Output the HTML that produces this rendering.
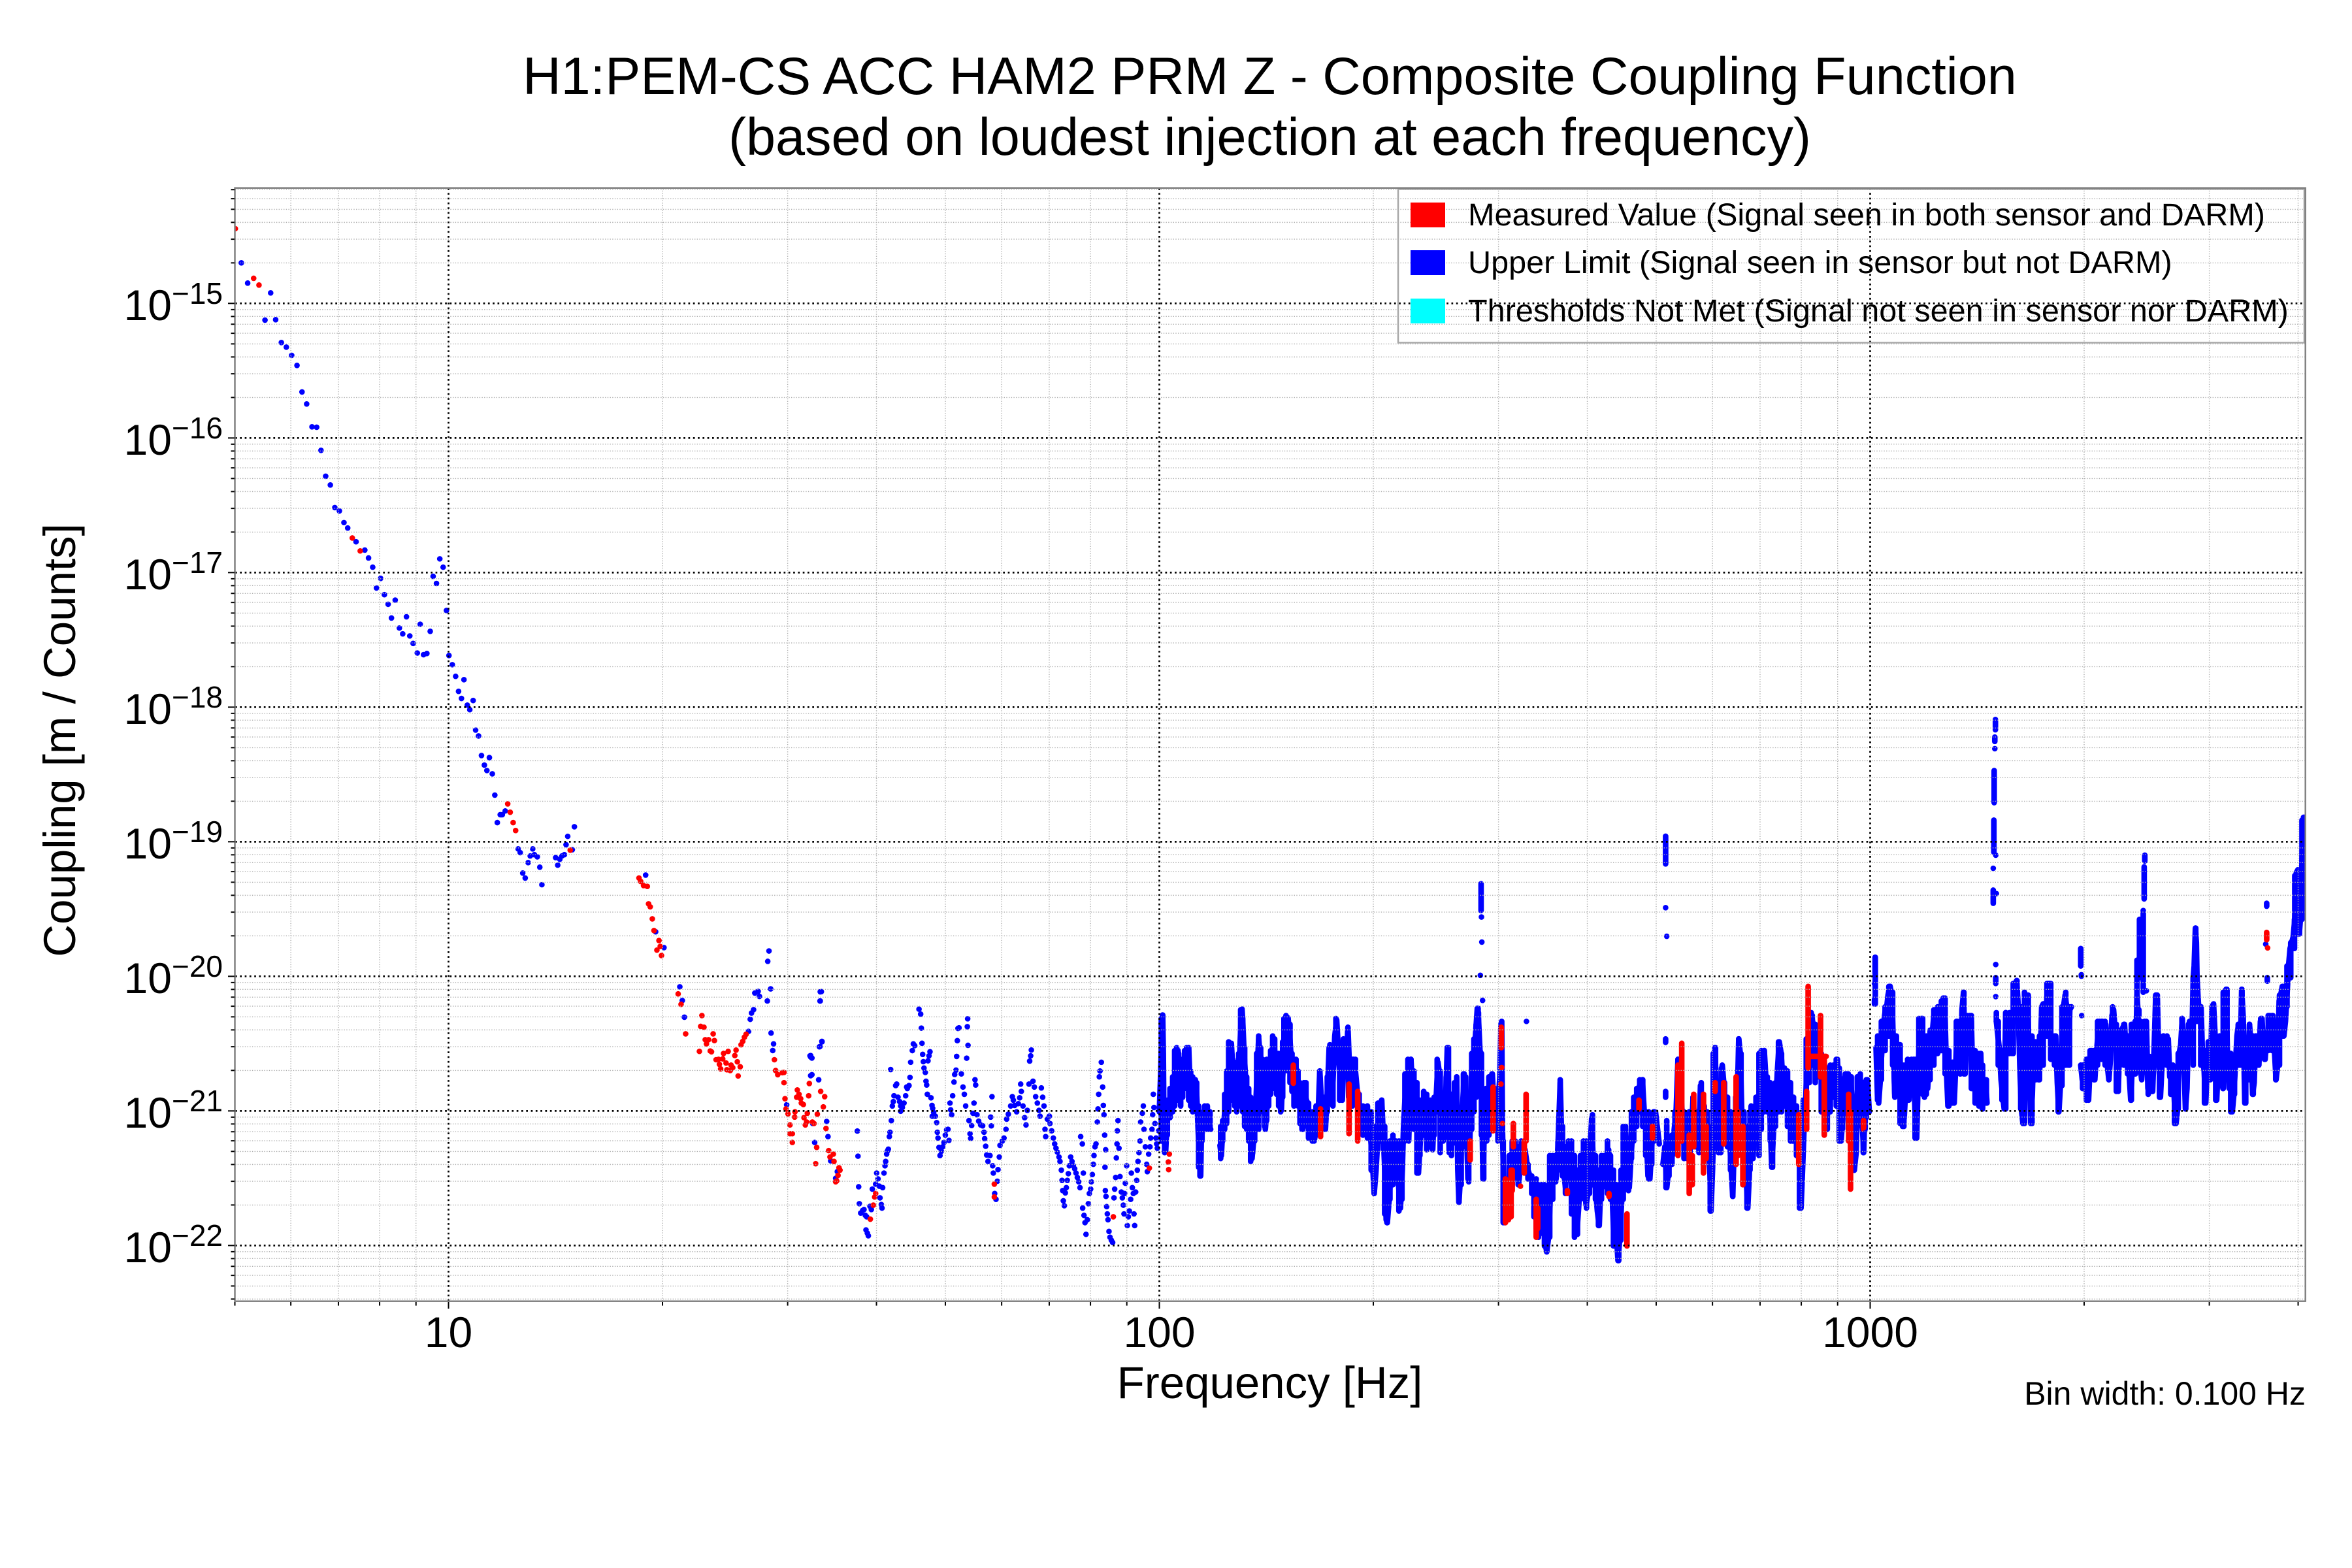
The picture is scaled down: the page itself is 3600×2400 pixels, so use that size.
<!DOCTYPE html>
<html><head><meta charset="utf-8"><style>
html,body{margin:0;padding:0;background:#fff}
svg{display:block}
text{font-family:"Liberation Sans",Arial,Helvetica,sans-serif;fill:#000}
.b,.r{fill:none;stroke-linecap:round;stroke-linejoin:round;stroke-width:8.6px;vector-effect:non-scaling-stroke}
.b{stroke:#0000ff}.r{stroke:#ff0000}
</style></head><body>
<svg width="3600" height="2400" viewBox="0 0 3600 2400" xmlns="http://www.w3.org/2000/svg">
<rect x="0" y="0" width="3600" height="2400" fill="#fff"/>
<defs><clipPath id="cp"><rect x="359.5" y="287.7" width="3169.2" height="1704"/></clipPath></defs>

<g clip-path="url(#cp)">
<!-- zoom1 region -->
<g transform="translate(0,250) scale(0.5102,0.3333)">
<path class="b" vector-effect="non-scaling-stroke" d="M724 457h.01M743 550h.01M812 595h.01M795 720h.01M827 718h.01M844 823h.01M859 844h.01M875 882h.01M891 928h.01M906 1050h.01M920 1105h.01M936 1210h.01M950 1212h.01M963 1318h.01M977 1437h.01M991 1477h.01"/>
<path class="r" vector-effect="non-scaling-stroke" d="M706 300h.01M761 528h.01M777 559h.01"/>
</g>
<!-- zoom6 region -->
<g transform="translate(360,650) scale(0.6378)">
<path class="b" vector-effect="non-scaling-stroke" d="M239 199h.01M250 207h.01M261 235h.01M270 248h.01M290 281h.01M311 301h.01M320 320h.01M330 342h.01M349 369h.01M339 392h.01M358 408h.01M384 421h.01M367 431h.01M375 464h.01M411 461h.01M394 488h.01M402 502h.01M419 507h.01M444 479h.01M427 525h.01M437 548h.01M452 552h.01M460 549h.01M468 496h.01M475 364h.01M483 381h.01M491 322h.01M499 342h.01M507 446h.01M513 554h.01M521 576h.01M529 604h.01M549 612h.01M536 640h.01M543 657h.01M571 662h.01M557 673h.01M563 684h.01M577 733h.01M584 747h.01M591 794h.01M610 799h.01M598 817h.01M604 830h.01M617 838h.01M623 889h.01M648 927h.01M641 936h.01M636 936h.01M629 955h.01M679 1018h.01M684 1027h.01M714 1018h.01M708 1035h.01M718 1032h.01M725 1037h.01M703 1051h.01M731 1062h.01M690 1076h.01M696 1088h.01M736 1104h.01M769 1039h.01M779 1043h.01M774 1057h.01M784 1035h.01M790 1032h.01M794 1008h.01M798 988h.01M814 965h.01M809 1020h.01M985 1081h.01M1009 1217h.01M1029 1255h.01M1067 1349h.01M1073 1382h.01M1078 1422h.01M1232 1456h.01M1236 1427h.01M1239 1412h.01M1244 1404h.01M1247 1364h.01M1255 1360h.01M1258 1372h.01M1281 1263h.01M1278 1288h.01M1277 1383h.01M1285 1354h.01M1286 1460h.01M1292 1486h.01M1290 1502h.01M1404 1361h.01M1404 1383h.01M1408 1480h.01M1402 1493h.01M1381 1514h.01M1384 1520h.01M1384 1560h.01"/>
<path class="r" vector-effect="non-scaling-stroke" d="M281 272h.01M300 303h.01M654 910h.01M660 930h.01M667 955h.01M673 974h.01M804 1021h.01M969 1088h.01M973 1096h.01M980 1106h.01M989 1108h.01M992 1150h.01M996 1157h.01M1001 1186h.01M1005 1214h.01M1017 1238h.01M1020 1252h.01M1012 1261h.01M1023 1274h.01M1063 1366h.01M1070 1391h.01M1081 1462h.01M1120 1418h.01M1117 1444h.01M1125 1446h.01M1147 1462h.01M1128 1476h.01M1136 1476h.01M1150 1478h.01M1131 1486h.01M1114 1504h.01M1140 1503h.01M1143 1505h.01M1154 1524h.01M1160 1523h.01M1170 1522h.01M1183 1504h.01M1172 1509h.01M1202 1501h.01M1199 1514h.01M1162 1535h.01M1178 1532h.01M1190 1537h.01M1205 1529h.01M1212 1541h.01M1165 1546h.01M1180 1548h.01M1188 1550h.01M1194 1543h.01M1207 1563h.01M1214 1488h.01M1218 1480h.01M1222 1470h.01M1226 1463h.01M1294 1524h.01M1297 1550h.01M1302 1560h.01M1313 1555h.01"/>
</g>
<!-- zoom7 region -->
<g transform="translate(1200,1300) scale(0.5102,0.4464)">
<path class="b" vector-effect="non-scaling-stroke" d="M8 876h.01M80 776h.01M86 940h.01M92 1005h.01M104 790h.01M128 933h.01M132 985h.01M140 1068h.01M160 1105h.01M155 1128h.01M78 708h.01M80 712h.01M108 520h.01M112 488h.01M114 660h.01M108 676h.01M220 966h.01M222 1052h.01M224 1157h.01M226 1215h.01M230 1247h.01M236 1238h.01M240 1235h.01M244 1255h.01M248 1260h.01M246 1305h.01M250 1316h.01M253 1325h.01M258 1224h.01M262 1235h.01M265 1165h.01M275 1148h.01M278 1110h.01M282 1130h.01M286 1155h.01M288 1195h.01M292 1218h.01M294 1230h.01M296 1160h.01M300 1110h.01M303 1085h.01M305 1070h.01M308 1045h.01M310 1035h.01M313 1028h.01M316 985h.01M318 970h.01M322 930h.01M320 755h.01M325 880h.01M328 865h.01M330 845h.01M335 810h.01M338 805h.01M342 850h.01M347 865h.01M350 880h.01M355 885h.01M350 898h.01M360 870h.01M365 845h.01M370 820h.01M368 815h.01M375 810h.01M378 782h.01M380 730h.01M385 690h.01M388 667h.01M392 673h.01M405 548h.01M410 565h.01M412 613h.01M414 665h.01M416 703h.01M418 728h.01M420 750h.01M424 765h.01M426 795h.01M428 808h.01M430 840h.01M432 725h.01M435 708h.01M438 694h.01M441 852h.01M444 878h.01M446 888h.01M449 902h.01M445 915h.01M454 915h.01M458 937h.01M460 970h.01M462 990h.01M465 1022h.01M468 1050h.01M472 1035h.01M476 1020h.01M480 1005h.01M484 980h.01M488 962h.01M492 960h.01M495 998h.01M498 870h.01M500 893h.01M503 910h.01M506 845h.01M510 798h.01M512 772h.01M516 757h.01M518 710h.01M520 656h.01M522 614h.01M525 612h.01M532 770h.01M537 815h.01M541 840h.01M545 880h.01M548 716h.01M550 608h.01M551 581h.01M552 672h.01M555 930h.01M558 975h.01M560 991h.01M563 947h.01M567 905h.01M570 870h.01M573 790h.01M575 808h.01M579 910h.01M584 932h.01M590 945h.01M596 948h.01M600 970h.01M602 992h.01M605 1018h.01M608 1048h.01M612 1070h.01M618 1050h.01M620 918h.01M622 948h.01M624 848h.01M626 1085h.01M628 1110h.01M632 1180h.01M636 1200h.01M640 1138h.01M642 1098h.01M646 1055h.01M648 1015h.01M655 1000h.01M660 990h.01M666 960h.01M668 925h.01M673 908h.01M680 880h.01M685 848h.01M688 860h.01M692 878h.01M698 900h.01M703 872h.01M707 852h.01M710 805h.01M712 830h.01M717 880h.01M722 920h.01M726 945h.01M730 895h.01M735 805h.01M737 726h.01M740 708h.01M742 688h.01M747 795h.01M751 815h.01M755 848h.01M760 870h.01M765 895h.01M768 915h.01M772 818h.01M776 850h.01M780 880h.01M783 960h.01M785 985h.01M790 925h.01M796 915h.01M798 940h.01M803 965h.01M808 990h.01M812 1010h.01M816 1025h.01M820 1038h.01M825 1055h.01M828 1070h.01M832 1100h.01M834 1135h.01M836 1170h.01M838 1205h.01M841 1222h.01M844 1178h.01M847 1160h.01M850 1135h.01M853 1112h.01M856 1085h.01M860 1055h.01M864 1070h.01M868 1085h.01M872 1095h.01M876 1110h.01M880 1125h.01M884 1140h.01M888 1160h.01M890 985h.01M895 1010h.01M898 1110h.01M896 1230h.01M900 1255h.01M903 1280h.01M906 1320h.01M910 1270h.01M913 1215h.01M916 1180h.01M920 1165h.01M922 1140h.01M925 1115h.01M928 1080h.01M930 1050h.01M933 1020h.01M936 1010h.01M940 935h.01M942 890h.01M944 840h.01M946 780h.01M948 760h.01M952 730h.01M956 815h.01M958 878h.01M960 910h.01M962 980h.01M965 1030h.01M963 1090h.01M964 1170h.01M966 1190h.01M968 1225h.01M970 1250h.01M972 1270h.01M975 1310h.01M978 1330h.01M982 1340h.01M986 1348h.01M990 1195h.01M992 1165h.01M995 1125h.01M997 1058h.01M999 1010h.01M1000 965h.01M1002 930h.01M1005 1025h.01M1008 1122h.01M1012 1175h.01M1015 1195h.01M1018 1220h.01M1020 1250h.01M1022 1180h.01M1024 1145h.01M1028 1085h.01M1030 1290h.01M1033 1260h.01M1036 1240h.01M1040 1200h.01M1042 1110h.01M1045 1160h.01M1048 1180h.01M1050 1250h.01M1052 1290h.01M1055 1175h.01M1058 1135h.01M1060 1100h.01M1062 1070h.01M1065 1040h.01M1068 1000h.01M1070 935h.01M1075 905h.01M1078 880h.01M1080 960h.01M1084 1020h.01M1088 1080h.01M1090 1105h.01M1094 1045h.01M1098 1020h.01M1100 990h.01M1104 960h.01M1106 910h.01M1108 840h.01M1110 885h.01M1113 940h.01M1116 990h.01M1118 1010h.01M1120 1025h.01M1124 965h.01"/>
<polyline class="b" vector-effect="non-scaling-stroke" points="1126,900 1128,835 1130,770 1132,690 1133,640 1134,580 1136,568 1138,700 1140,980 1142,1010 1145,1035 1148,960 1152,900 1156,870 1160,860 1164,850 1168,830 1172,800 1175,775 1178,715 1182,690 1186,730 1190,770 1194,745 1198,760 1202,790 1206,740 1210,710 1214,680 1218,800 1222,820 1226,840 1230,850 1234,790 1238,840 1240,890 1242,950 1244,1000 1246,1040 1248,1080 1250,1120 1252,990 1256,960 1260,930 1264,910 1268,890 1272,900 1276,950 1280,960"/>
<polyline class="b" vector-effect="non-scaling-stroke" points="1308,1015 1312,1050 1316,965 1320,930 1324,880 1328,850 1332,800 1335,760 1338,700 1342,665 1346,745 1350,800 1354,830 1358,850 1362,760 1366,740 1370,620 1372,560 1374,548 1376,585 1380,690 1384,770 1388,830 1392,880 1396,940 1400,1000 1404,1060 1408,1010 1412,940 1416,860 1420,750 1424,650 1428,700 1432,760 1436,800 1440,850 1444,960 1448,900 1452,840 1456,780 1460,730 1464,700 1468,650 1472,690 1476,740 1480,760 1484,780 1488,860 1492,895 1496,780 1500,700 1504,600 1508,580 1512,578 1516,620 1520,690 1524,760 1528,820 1532,790 1536,750 1540,780 1544,820 1548,880 1552,940 1556,960 1560,900 1565,850 1570,870"/>
<path class="b" vector-effect="non-scaling-stroke" d="M1132 580V1000M1136 570V960M1142 880V1040M1150 860V980M1158 820V920M1166 780V900M1172 690V880M1178 680V860M1184 700V840M1190 720V880M1196 730V850M1202 690V820M1208 680V800M1214 680V860M1220 760V880M1226 780V900M1232 790V870M1238 800V900M1244 880V1090M1248 900V1120M1254 920V1000M1262 880V940M1270 880V960M1278 900V960M1310 950V1060M1316 930V1000M1322 840V960M1328 760V940M1334 660V900M1340 690V830M1346 720V860M1352 730V880M1358 760V900M1364 700V880M1370 550V720M1376 580V900M1382 680V950M1388 780V960M1394 820V1000M1400 850V1070M1406 900V1040M1412 860V1000M1418 700V940M1424 640V960M1430 680V900M1436 720V880M1442 800V950M1448 720V930M1454 720V880M1460 690V840M1466 640V820M1472 650V800M1478 700V840M1484 700V880M1490 760V900M1496 660V850M1500 580V760M1506 570V720M1512 580V760M1518 600V800M1524 700V830M1530 720V880M1536 720V860M1542 760V880M1548 800V940M1554 830V960M1560 800V950M1566 800V930"/>
<path class="r" vector-effect="non-scaling-stroke" d="M0 765h.01M0 800h.01M3 855h.01M6 890h.01M12 907h.01M18 945h.01M18 975h.01M25 975h.01M25 1005h.01M32 918h.01M33 900h.01M40 825h.01M38 850h.01M45 840h.01M50 855h.01M52 870h.01M58 875h.01M60 920h.01M64 945h.01M68 935h.01M70 905h.01M74 845h.01M76 803h.01M85 935h.01M90 940h.01M100 908h.01M95 1078h.01M98 1022h.01M110 830h.01M118 883h.01M122 848h.01M126 957h.01M134 1033h.01M138 1055h.01M148 1045h.01M150 1070h.01M155 1140h.01M158 1137h.01M162 1118h.01M165 1092h.01M168 1100h.01M259 1268h.01M268 1220h.01M272 1192h.01M275 1180h.01M631 1148h.01M631 1192h.01M988 1260h.01M1096 1093h.01M1156 1045h.01M1153 1072h.01M1154 1098h.01M1528 740V802"/>
</g>
<!-- zoom8 region -->
<g transform="translate(2000,1300) scale(0.5741,0.4464)">
<polyline class="b" vector-effect="non-scaling-stroke" points="0,870 10,960 20,1000 30,930 35,760 40,880 50,960 55,840 60,680 65,760 70,800 75,640 80,585 85,700 90,800 95,860 100,680 105,740 110,610 115,780 120,870 125,720 130,760 135,830 140,890 150,960 160,930 170,980 175,1060 180,1180 185,1100 190,980 195,880 200,860 205,1000 210,1150 212,1270 215,1280 220,1200 225,1100 230,1050 235,1000 240,1080 245,1150 250,1230 255,1100 258,960 262,860 268,780 272,1000 278,720 282,820 288,880 292,800 295,940 298,1110 302,1020 306,950 312,880 318,840 322,980 328,900 336,1030 340,900 345,860 350,730 355,780 360,960 365,990 370,880 375,680 380,1040 385,900 390,960 395,900 400,790 403,1100 406,1210 410,1120 415,900 420,770 425,900 430,1130 435,1000 440,760 445,700 450,640 455,545 458,580 462,690 465,700 470,1130 475,900 480,1000 485,830 490,780 495,770 500,900 505,850 510,880 515,780 518,600 520,590 522,960 525,1130 528,1280 532,1250 538,1200 542,1100 546,1050 550,1020 555,1010 560,1100 565,1150 570,1080 575,1020 582,1030 590,1100 598,1130 604,1150 610,1240 615,1300 620,1320 625,1190 632,1260 636,1350 640,1380 645,1330 650,1180 655,1080 660,1060 665,1130 670,1020 676,800 680,1000 685,1100 690,1160 695,1060 700,1120 705,1010 710,1240 715,1180 720,1320 725,1230 730,1120 735,1080 740,1150 745,1220 750,1180 755,1050 760,920 765,1120 770,1160 775,1240 780,1290 785,1120 790,1070 795,1100 800,1160 805,1030 810,1120 815,1200 820,1360 825,1300 830,1410 835,1330 840,1200 845,1100 850,960 855,1060 860,1160 865,1050 870,950 875,900 880,870 885,820 890,800 895,790 900,900 905,960 910,1120 915,1130 920,1020 925,900 930,900 940,1010"/>
<polyline class="b" vector-effect="non-scaling-stroke" points="950,1080 955,1020 960,1160 965,1100 970,1000 975,1050 980,960 985,900 990,720 995,800 1000,880 1005,1000 1010,1050 1015,1020 1020,900 1025,1000 1030,860 1035,940 1040,1000 1045,1020 1050,810 1055,880 1060,900 1065,950 1070,1000 1075,1100 1078,1240 1082,1100 1086,900 1088,680 1092,800 1096,900 1100,1000 1104,1040 1108,740 1112,800 1118,1000 1125,900 1130,1050 1136,1190 1140,1000 1145,880 1150,760 1152,650 1156,700 1160,900 1165,1000 1170,1080 1176,1230 1180,1120 1185,880 1190,1060 1195,930 1200,850 1205,1000 1210,800 1215,700 1220,690 1225,800 1230,860 1235,900 1240,1090 1245,960 1250,900 1255,760 1260,660 1265,700 1270,800 1275,760 1280,880 1285,800 1290,900 1295,1000 1300,900 1305,880 1310,960 1315,1100 1318,1230 1322,1100 1326,960 1330,880 1335,700 1340,600 1345,560 1350,600 1355,700 1360,620 1365,700 1370,740 1375,800 1380,900 1385,960 1390,880 1395,840 1400,760 1405,780 1410,800 1415,720 1420,860 1425,1000 1430,900 1435,780 1440,770 1445,850 1450,780 1455,880 1460,1100 1465,1040 1470,800 1475,780 1480,900 1485,1040 1490,800 1495,790 1500,900"/>
<polyline class="b" vector-effect="non-scaling-stroke" points="1520,680 1525,870 1530,780 1535,640 1540,600 1545,560 1550,500 1555,470 1560,540 1565,700 1568,850"/>
<path class="b" vector-effect="non-scaling-stroke" d="M465 118V210M466 232h.01M467 318h.01M463 432h.01M469 518h.01M457 545V700M957 -45V50M957 200h.01M960 298h.01M957 650V662M957 830V850M960 930V990M586 590h.01M1516 370V530"/>
<path class="b" vector-effect="non-scaling-stroke" d="M5 870V990M15 900V1000M25 880V980M35 760V900M45 850V960M55 780V900M62 670V850M70 700V880M78 580V720M88 700V860M98 650V760M106 660V760M112 720V850M122 720V880M130 720V860M140 840V960M150 880V980M162 880V990M172 900V1100M180 950V1180M190 870V1030M200 860V1000M208 950V1250M214 1100V1280M222 1000V1200M230 980V1150M238 1000V1120M246 1000V1240M254 1000V1200M262 770V1000M270 720V960M278 720V900M286 760V960M294 800V1110M302 860V1050M312 830V980M320 840V1030M330 860V1020M340 850V980M348 720V900M356 760V1040M364 880V1000M372 780V960M378 680V900M386 840V1050M394 800V1000M400 780V1010M406 1000V1210M412 900V1150M418 770V1000M424 780V1020M432 900V1140M440 700V960M446 650V900M452 600V850M458 560V800M466 700V980M472 900V1130M478 820V1000M486 780V980M494 770V960M502 820V950M510 850V1000M524 1000V1280M532 1130V1260M540 1050V1250M548 1000V1150M556 1000V1120M564 1020V1150M572 1000V1100M580 1000V1060M590 1080V1130M600 1120V1180M606 1140V1260M612 1130V1300M618 1150V1330M626 1150V1270M634 1150V1360M640 1200V1380M648 1050V1330M656 1050V1200M664 1050V1140M670 1000V1100M676 790V1050M682 950V1120M690 1020V1180M698 1000V1130M706 1000V1250M714 1050V1330M722 1100V1320M730 1050V1200M738 1000V1160M746 1000V1230M754 1000V1180M762 910V1150M770 1050V1200M778 1100V1290M786 1050V1200M794 1050V1150M802 1000V1180M810 1050V1200M818 1100V1360M826 1150V1340M832 1250V1410M838 1100V1340M844 950V1200M850 950V1150M858 1000V1170M866 900V1060M872 850V1000M880 820V950M888 790V900M896 790V950M904 900V1050M912 900V1130M920 950V1080M926 900V1000M958 1000V1160M966 1010V1120M974 980V1080M982 900V1020M990 720V950M998 760V920M1006 900V1060M1014 950V1060M1022 900V1050M1030 850V980M1038 900V1020M1046 950V1040M1052 800V930M1060 880V980M1068 900V1020M1076 950V1240M1084 700V1000M1090 680V900M1098 800V1040M1106 750V950M1114 800V1000M1122 850V1020M1130 900V1100M1136 950V1190M1144 850V1000M1152 650V900M1158 700V950M1166 900V1080M1174 950V1230M1182 900V1100M1190 900V1060M1198 850V1000M1206 700V1050M1212 690V960M1220 690V900M1228 780V900M1236 800V1000M1242 850V1090M1250 800V950M1258 660V900M1266 700V900M1274 750V880M1282 760V950M1290 800V1000M1298 850V1000M1306 880V1050M1314 950V1230M1324 860V1000M1332 650V900M1340 560V800M1348 570V740M1356 600V800M1364 620V780M1372 700V900M1380 760V960M1388 750V960M1396 740V900M1404 740V850M1412 720V880M1420 750V1000M1428 800V960M1436 770V900M1444 770V960M1452 780V900M1460 850V1100M1468 780V950M1476 770V900M1484 800V1040M1492 790V920"/>
<path class="r" vector-effect="non-scaling-stroke" d="M37 890V985M113 805V975M136 830V1000M436 1000V1065M497 815V965M519 610V680M520 748h.01M518 805h.01M522 940h.01M530 1130V1280M538 1160V1270M545 1100V1260M548 1100V1170M551 940V1020M585 840V1000M580 1000V1110M570 1155h.01M612 1200V1330M616 1230V1300M695 1170V1180M806 1180V1190M854 1250V1360M886 860V890M922 950V990M990 740V1050M1000 665V1000M1020 980V1180M1032 840V1020M1028 1050V1150M1058 840V1110M1065 950V1060M1089 800V830M1112 800V1010M1145 780V1080M1150 900V1050M1163 950V1150M1312 910V1080M1333 830V960M1337 470V750M1340 710H1385M1370 570V780M1380 710V980M1445 840V1000M1450 900V1165M1485 930V960"/>
</g>
<!-- zoom9 region -->
<g transform="translate(2850,1050) scale(0.4783,0.4464)">
<polyline class="b" vector-effect="non-scaling-stroke" points="45,1240 50,1420 55,1250 60,1330 65,1200 70,1150 75,1110 80,1200 85,1060 90,1030 95,1060 100,1210 105,1400 110,1250 115,1300 120,1230 125,1380 130,1510 135,1480 140,1380 145,1300 150,1420 155,1300 160,1400 165,1280 170,1470 175,1550 180,1330 185,1150 190,1140 195,1260 200,1410 205,1290 210,1380 215,1300 220,1250 225,1190 230,1130 235,1120 240,1180 245,1110 250,1250 255,1150 260,1070 265,1100 270,1310 275,1440 280,1300 285,1420 290,1310 295,1430 300,1300 305,1150 310,1160 315,1330 320,1110 325,1050 330,1330 335,1200 340,1250 345,1130 350,1150 355,1380 360,1280 365,1330 370,1430 375,1270 380,1260 385,1450 390,1400 395,1350 400,1430"/>
<polyline class="b" vector-effect="non-scaling-stroke" points="430,1150 435,1200 440,1250 445,1350 450,1400 455,1450 460,1120 465,1200 470,1250 475,1130 480,1260 485,1100 490,1020 495,1010 500,1100 505,1300 510,1450 515,1500 520,1400 525,1200 530,1060 535,1300 540,1500 545,1400 550,1220 555,1300 560,1250 565,1350 570,1300 575,1100 580,1090 585,1160 590,1100 595,1020 600,1020 605,1280 610,1200 615,1280 620,1200 625,1360 630,1460 635,1370 640,1200 645,1100 650,1060 655,1100 660,1300 665,1110 670,1100"/>
<polyline class="b" vector-effect="non-scaling-stroke" points="700,1300 705,1350 710,1300 715,1380 720,1280 725,1420 730,1300 735,1250 740,1300 745,1350 750,1260 755,1200 760,1150 765,1200 770,1150 775,1280 780,1160 785,1300 790,1350 795,1280 800,1130 805,1110 810,1180 815,1260 820,1390 825,1200 830,1200 835,1170 840,1160 845,1250 850,1200 855,1330 860,1420 865,1300 870,1160 875,1330 880,1060 885,1150 890,1300 895,1350 900,1250 905,1200 910,1150 915,1380 920,1270 925,1330 930,1390 935,1240 940,1060 945,1060 950,1290 955,1410 960,1300 965,1200 970,1230 975,1300 980,1210 985,1340 990,1350 995,1300 1000,1430 1005,1500 1010,1450 1015,1260 1020,1230 1025,1140 1030,1280 1035,1450 1040,1380 1045,1160 1050,1150 1055,1250 1060,1000 1063,960 1067,830 1070,880 1072,1000 1075,1060 1080,1150 1085,1100 1090,1280 1095,1320 1100,1430 1105,1300 1110,1220 1115,1350 1120,1100 1125,1090 1130,1200 1135,1420 1140,1300 1145,1200 1150,1320 1155,1380 1160,1050 1165,1040 1170,1300 1175,1380 1180,1260 1185,1460 1190,1400 1195,1300 1200,1200 1205,1160 1210,1300 1215,1040 1220,1140 1225,1430 1230,1300 1235,1350 1240,1160 1245,1230 1250,1400 1255,1360 1260,1200 1265,1250 1270,1300 1275,1150 1280,1140 1285,1250 1290,1280 1295,1200 1300,1180 1305,1130 1310,1160 1315,1130 1320,1250 1325,1350 1330,1300 1335,1080 1340,1060 1345,1030 1350,1200 1355,1150 1360,1060 1365,960 1370,900 1375,880 1380,860 1385,800 1390,640 1395,630 1400,840 1405,770 1408,600 1410,520 1413,460 1418,450"/>
<path class="b" vector-effect="non-scaling-stroke" d="M50 1200V1420M62 1150V1350M74 1100V1250M86 1030V1200M98 1050V1300M110 1200V1400M122 1230V1500M134 1300V1510M146 1280V1420M158 1280V1400M170 1280V1550M182 1140V1350M194 1140V1400M206 1200V1400M218 1180V1350M230 1110V1300M242 1100V1260M254 1080V1250M266 1070V1330M278 1250V1440M290 1290V1430M302 1150V1300M314 1150V1330M326 1050V1330M338 1130V1260M350 1130V1380M362 1250V1430M374 1260V1440M386 1300V1450M398 1350V1430M436 1150V1300M448 1250V1420M460 1120V1450M472 1120V1260M484 1020V1260M496 1010V1150M508 1100V1450M520 1050V1500M532 1060V1350M544 1200V1500M556 1220V1350M568 1200V1350M580 1090V1300M592 1020V1200M604 1020V1280M616 1200V1300M628 1250V1460M640 1100V1370M652 1050V1300M664 1100V1300M706 1300V1380M718 1280V1420M730 1250V1350M742 1250V1350M754 1150V1300M766 1150V1280M778 1150V1300M790 1250V1350M802 1100V1200M814 1160V1390M826 1180V1300M838 1160V1300M850 1200V1330M862 1160V1420M874 1150V1330M892 1150V1300M904 1150V1250M916 1280V1400M928 1300V1390M940 1060V1290M952 1200V1410M964 1200V1300M976 1200V1300M988 1300V1400M1000 1350V1500M1012 1260V1450M1024 1140V1280M1036 1300V1450M1048 1150V1250M1060 1000V1300M1072 1000V1150M1084 1100V1300M1096 1250V1430M1108 1220V1350M1120 1100V1300M1132 1200V1420M1144 1200V1320M1156 1050V1380M1168 1040V1300M1180 1260V1460M1192 1300V1400M1204 1160V1300M1216 1040V1300M1228 1300V1430M1240 1160V1350M1252 1200V1400M1264 1200V1300M1276 1140V1250M1288 1200V1280M1300 1130V1250M1312 1130V1250M1324 1250V1350M1336 1060V1300M1348 1030V1200M1360 960V1100M1372 880V1000M1384 800V900M1396 630V850M1408 460V800"/>
<path class="b" vector-effect="non-scaling-stroke" d="M10 1360V1520M42 930V985M40 1020h.01M40 1075V1090M427 115V150M425 175V190M425 215h.01M423 290V400M422 460V570M428 580h.01M420 625h.01M420 700V745M430 712h.01M428 955h.01M428 1000V1020M428 1065h.01M430 1120V1150M700 900V960M702 990V995M703 1130h.01M905 580V600M903 620V730M900 770V1050M888 800V1000M880 940V1080M886 1110V1130M910 1045h.01M1295 745V755M1292 885h.01M1297 1000V1012M1068 830V1000M1413 450V770M1400 630V850M1385 650V820"/>
<path class="r" vector-effect="non-scaling-stroke" d="M5 1490V1515M1295 845V870M1298 898h.01"/>
</g>
</g>

<!-- minor grid -->
<g stroke="#b0b0b0" stroke-width="1.4" stroke-dasharray="1.4 2.3" fill="none">
<path d="M360 402.39H3529M360 366.11H3529M360 340.38H3529M360 320.41H3529M360 304.1H3529M360 290.31H3529
M360 608.39H3529M360 572.11H3529M360 546.38H3529M360 526.41H3529M360 510.1H3529M360 496.31H3529M360 484.36H3529M360 473.83H3529
M360 814.39H3529M360 778.11H3529M360 752.38H3529M360 732.41H3529M360 716.1H3529M360 702.31H3529M360 690.36H3529M360 679.83H3529
M360 1020.39H3529M360 984.11H3529M360 958.38H3529M360 938.41H3529M360 922.1H3529M360 908.31H3529M360 896.36H3529M360 885.83H3529
M360 1226.39H3529M360 1190.11H3529M360 1164.38H3529M360 1144.41H3529M360 1128.1H3529M360 1114.31H3529M360 1102.36H3529M360 1091.83H3529
M360 1432.39H3529M360 1396.11H3529M360 1370.38H3529M360 1350.41H3529M360 1334.1H3529M360 1320.31H3529M360 1308.36H3529M360 1297.83H3529
M360 1638.39H3529M360 1602.11H3529M360 1576.38H3529M360 1556.41H3529M360 1540.1H3529M360 1526.31H3529M360 1514.36H3529M360 1503.83H3529
M360 1844.39H3529M360 1808.11H3529M360 1782.38H3529M360 1762.41H3529M360 1746.1H3529M360 1732.31H3529M360 1720.36H3529M360 1709.83H3529
M360 1988.38H3529M360 1968.41H3529M360 1952.1H3529M360 1938.31H3529M360 1926.36H3529M360 1915.83H3529"/>
<path d="M445.13 288V1992M517.97 288V1992M581.06 288V1992M636.71 288V1992M1014.02 288V1992M1205.61 288V1992M1341.54 288V1992M1446.98 288V1992M1533.13 288V1992M1605.97 288V1992M1669.06 288V1992M1724.71 288V1992M2102.02 288V1992M2293.61 288V1992M2429.54 288V1992M2534.98 288V1992M2621.13 288V1992M2693.97 288V1992M2757.06 288V1992M2812.71 288V1992M3190.02 288V1992M3381.61 288V1992M3517.54 288V1992"/>
</g>
<!-- major grid -->
<g stroke="#000" stroke-width="2.7" stroke-dasharray="2.7 4.6" fill="none">
<path d="M360 464.4H3529M360 670.4H3529M360 876.4H3529M360 1082.4H3529M360 1288.4H3529M360 1494.4H3529M360 1700.4H3529M360 1906.4H3529"/>
<path d="M686.5 288V1992M1774.5 288V1992M2862.5 288V1992"/>
</g>

<!-- legend -->
<rect x="2140" y="289.5" width="1387" height="235" fill="none" stroke="#a8a8a8" stroke-width="2.5"/>
<rect x="2159" y="310" width="53" height="38" fill="#ff0000"/>
<rect x="2159" y="383" width="53" height="38" fill="#0000ff"/>
<rect x="2159" y="457" width="53" height="38" fill="#00ffff"/>
<text x="2247" y="345" font-size="48.6">Measured Value (Signal seen in both sensor and DARM)</text>
<text x="2247" y="418" font-size="48.6">Upper Limit (Signal seen in sensor but not DARM)</text>
<text x="2247" y="492" font-size="48.6">Thresholds Not Met (Signal not seen in sensor nor DARM)</text>

<!-- spines -->
<rect x="359.5" y="287.7" width="3169.2" height="1704" fill="none" stroke="#808080" stroke-width="2.5"/>

<!-- ticks -->
<g stroke="#000" stroke-width="2" fill="none">
<path d="M349 464.4H359M349 670.4H359M349 876.4H359M349 1082.4H359M349 1288.4H359M349 1494.4H359M349 1700.4H359M349 1906.4H359"/>
<path d="M353.5 402.39H359M353.5 366.11H359M353.5 340.38H359M353.5 320.41H359M353.5 304.1H359M353.5 290.31H359
M353.5 608.39H359M353.5 572.11H359M353.5 546.38H359M353.5 526.41H359M353.5 510.1H359M353.5 496.31H359M353.5 484.36H359M353.5 473.83H359
M353.5 814.39H359M353.5 778.11H359M353.5 752.38H359M353.5 732.41H359M353.5 716.1H359M353.5 702.31H359M353.5 690.36H359M353.5 679.83H359
M353.5 1020.39H359M353.5 984.11H359M353.5 958.38H359M353.5 938.41H359M353.5 922.1H359M353.5 908.31H359M353.5 896.36H359M353.5 885.83H359
M353.5 1226.39H359M353.5 1190.11H359M353.5 1164.38H359M353.5 1144.41H359M353.5 1128.1H359M353.5 1114.31H359M353.5 1102.36H359M353.5 1091.83H359
M353.5 1432.39H359M353.5 1396.11H359M353.5 1370.38H359M353.5 1350.41H359M353.5 1334.1H359M353.5 1320.31H359M353.5 1308.36H359M353.5 1297.83H359
M353.5 1638.39H359M353.5 1602.11H359M353.5 1576.38H359M353.5 1556.41H359M353.5 1540.1H359M353.5 1526.31H359M353.5 1514.36H359M353.5 1503.83H359
M353.5 1844.39H359M353.5 1808.11H359M353.5 1782.38H359M353.5 1762.41H359M353.5 1746.1H359M353.5 1732.31H359M353.5 1720.36H359M353.5 1709.83H359
M353.5 1988.38H359M353.5 1968.41H359M353.5 1952.1H359M353.5 1938.31H359M353.5 1926.36H359M353.5 1915.83H359"/>
<path d="M686.5 1993V2003M1774.5 1993V2003M2862.5 1993V2003"/>
<path d="M359.5 1993V1998.5M445.13 1993V1998.5M517.97 1993V1998.5M581.06 1993V1998.5M636.71 1993V1998.5M1014.02 1993V1998.5M1205.61 1993V1998.5M1341.54 1993V1998.5M1446.98 1993V1998.5M1533.13 1993V1998.5M1605.97 1993V1998.5M1669.06 1993V1998.5M1724.71 1993V1998.5M2102.02 1993V1998.5M2293.61 1993V1998.5M2429.54 1993V1998.5M2534.98 1993V1998.5M2621.13 1993V1998.5M2693.97 1993V1998.5M2757.06 1993V1998.5M2812.71 1993V1998.5M3190.02 1993V1998.5M3381.61 1993V1998.5M3517.54 1993V1998.5"/>
</g>

<!-- y tick labels -->
<g font-size="66" text-anchor="end">
<text x="341" y="490">10<tspan dy="-25" font-size="46">−15</tspan></text>
<text x="341" y="696">10<tspan dy="-25" font-size="46">−16</tspan></text>
<text x="341" y="902">10<tspan dy="-25" font-size="46">−17</tspan></text>
<text x="341" y="1108">10<tspan dy="-25" font-size="46">−18</tspan></text>
<text x="341" y="1314">10<tspan dy="-25" font-size="46">−19</tspan></text>
<text x="341" y="1520">10<tspan dy="-25" font-size="46">−20</tspan></text>
<text x="341" y="1726">10<tspan dy="-25" font-size="46">−21</tspan></text>
<text x="341" y="1932">10<tspan dy="-25" font-size="46">−22</tspan></text>
</g>
<!-- x tick labels -->
<g font-size="66" text-anchor="middle">
<text x="686.5" y="2062">10</text>
<text x="1774.5" y="2062">100</text>
<text x="2862.5" y="2062">1000</text>
</g>

<!-- axis labels -->
<text x="1943.5" y="2140" font-size="69" text-anchor="middle">Frequency [Hz]</text>
<text transform="translate(115,1133) rotate(-90)" font-size="69" text-anchor="middle">Coupling [m / Counts]</text>
<text x="3529" y="2150" font-size="50" text-anchor="end">Bin width: 0.100 Hz</text>

<!-- title -->
<text x="1943.5" y="144" font-size="81" text-anchor="middle">H1:PEM-CS ACC HAM2 PRM Z - Composite Coupling Function</text>
<text x="1943.5" y="237" font-size="81" text-anchor="middle">(based on loudest injection at each frequency)</text>
</svg>
</body></html>
